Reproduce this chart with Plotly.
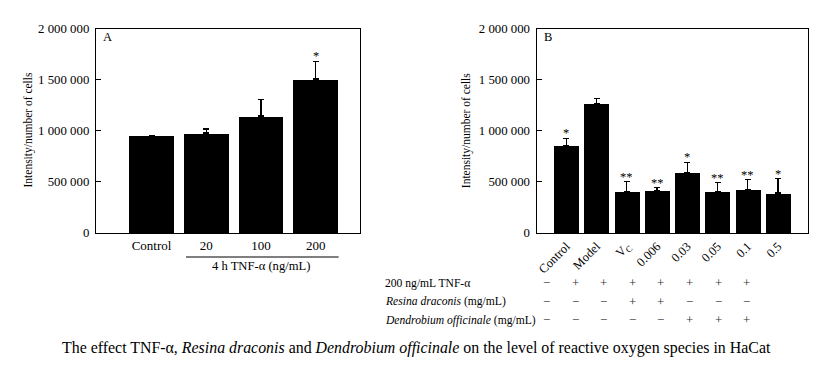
import plotly.graph_objects as go

# ---- data ----
a_cats = ["Control", "20", "100", "200"]
a_vals = [949000, 978000, 1144000, 1506000]
a_errs = [8000, 40000, 163000, 173000]
a_sig = ["", "", "", "*"]

b_cats = ["Control", "Model", "V<sub>C</sub>", "0.006", "0.03", "0.05", "0.1", "0.5"]
b_vals = [858000, 1268000, 408000, 417000, 593000, 408000, 427000, 391000]
b_errs = [68000, 46000, 94000, 26000, 98000, 84000, 94000, 140000]
b_sig = ["*", "", "**", "**", "*", "**", "**", "*"]

y_ticks = [0, 500000, 1000000, 1500000, 2000000]

row_labels = ["200 ng/mL TNF-α", "<i>Resina draconis</i> (mg/mL)", "<i>Dendrobium officinale</i> (mg/mL)"]
row_tnf = ["−", "+", "+", "+", "+", "+", "+", "+"]
row_resina = ["−", "−", "−", "+", "+", "−", "−", "−"]
row_dendro = ["−", "−", "−", "−", "−", "+", "+", "+"]

caption = ("The effect TNF-α, <i>Resina draconis</i> and <i>Dendrobium officinale</i> "
           "on the level of reactive oxygen species in HaCat")

W, H = 827, 378
OX, OY = 8, 8  # page body offset
FONT = "Liberation Serif, Times New Roman, serif"
BLK = "black"

def px(x):
    return (x - OX) / W

def py(y):
    return 1 - (y - OY) / H

fig = go.Figure()

fig.add_trace(go.Bar(
    x=list(range(len(a_cats))), y=a_vals, width=0.82,
    marker=dict(color=BLK, line=dict(width=0)),
    error_y=dict(type="data", array=a_errs, arrayminus=[0] * len(a_errs), symmetric=False,
                 color=BLK, thickness=1.3, width=3),
    xaxis="x", yaxis="y", showlegend=False))

fig.add_trace(go.Bar(
    x=list(range(len(b_cats))), y=b_vals, width=0.83,
    marker=dict(color=BLK, line=dict(width=0)),
    error_y=dict(type="data", array=b_errs, arrayminus=[0] * len(b_errs), symmetric=False,
                 color=BLK, thickness=1.3, width=3),
    xaxis="x2", yaxis="y2", showlegend=False))

ydom = [py(233), py(28.5)]
axis_common = dict(showline=True, linecolor=BLK, linewidth=1.3, mirror=True,
                   showgrid=False, zeroline=False, automargin=False)
yaxis_common = dict(range=[0, 2000000], tickvals=y_ticks, tickformat=",d", ticks="inside",
                    ticklen=5, tickcolor=BLK, tickfont=dict(size=12.8, color=BLK),
                    ticklabelstandoff=3)

fig.update_layout(
    width=W, height=H,
    margin=dict(l=0, r=0, t=0, b=0),
    paper_bgcolor="white", plot_bgcolor="white",
    font=dict(family=FONT, size=12, color=BLK),
    separators=". ",
    bargap=0,
    xaxis=dict(domain=[px(96), px(360)], range=[-1.015, 3.81], anchor="y",
               tickvals=list(range(len(a_cats))), ticktext=a_cats, ticks="",
               tickfont=dict(size=13, color=BLK), **axis_common),
    yaxis=dict(domain=ydom, anchor="x", **yaxis_common, **axis_common),
    xaxis2=dict(domain=[px(536.7), px(808.3)], range=[-0.98, 8.0], anchor="y2",
                tickvals=list(range(len(b_cats))), ticktext=b_cats, ticks="",
                tickangle=-45, tickfont=dict(size=12.5, color=BLK), **axis_common),
    yaxis2=dict(domain=ydom, anchor="x2", **yaxis_common, **axis_common),
)

ann = []
# y-axis titles
for xt in (28, 466.7):
    ann.append(dict(text="Intensity/number of cells", x=px(xt), y=py(130.5), xref="paper",
                    yref="paper", xanchor="center", yanchor="middle", textangle=-90,
                    showarrow=False, font=dict(size=11.5, color=BLK)))
# panel letters
ann.append(dict(text="A", x=px(101), y=py(37), xref="paper", yref="paper",
                xanchor="left", yanchor="middle", showarrow=False, font=dict(size=12.5, color=BLK)))
ann.append(dict(text="B", x=px(542), y=py(37), xref="paper", yref="paper",
                xanchor="left", yanchor="middle", showarrow=False, font=dict(size=12.5, color=BLK)))

# significance stars
for i, s in enumerate(a_sig):
    if s:
        ann.append(dict(text=s, x=i, y=a_vals[i] + a_errs[i], xref="x", yref="y",
                        yanchor="bottom", yshift=-4, showarrow=False, font=dict(size=12.5, color=BLK)))
for i, s in enumerate(b_sig):
    if s:
        ann.append(dict(text=s, x=i, y=b_vals[i] + b_errs[i], xref="x2", yref="y2",
                        yanchor="bottom", yshift=-4, showarrow=False, font=dict(size=12.5, color=BLK)))

# bracket label for panel A
ann.append(dict(text="4 h TNF-α (ng/mL)", x=2, y=py(266), xref="x", yref="paper",
                yanchor="middle", showarrow=False, font=dict(size=12.6, color=BLK)))

# treatment table
rows = [row_tnf, row_resina, row_dendro]
row_y = [283.3, 301.7, 320]
for r, (lab, signs) in enumerate(zip(row_labels, rows)):
    ann.append(dict(text=lab, x=px(382.7), y=py(row_y[r]), xref="paper", yref="paper",
                    xanchor="left", yanchor="middle", showarrow=False, font=dict(size=11.6, color=BLK)))
    for i, s in enumerate(signs):
        ann.append(dict(text=s, x=px(546.7 + i * 28.57), y=py(row_y[r]), xref="paper",
                        yref="paper", xanchor="center", yanchor="middle", showarrow=False,
                        font=dict(size=12.8, color="#333")))

# caption
ann.append(dict(text=caption, x=px(416.5), y=py(347.5), xref="paper", yref="paper",
                xanchor="center", yanchor="middle", showarrow=False, font=dict(size=15.9, color=BLK)))

fig.update_layout(annotations=ann)

fig.add_shape(type="line", x0=0.63, x1=3.42, y0=py(257), y1=py(257), xref="x", yref="paper",
              line=dict(color=BLK, width=1.2))

fig.write_html("out.html")
